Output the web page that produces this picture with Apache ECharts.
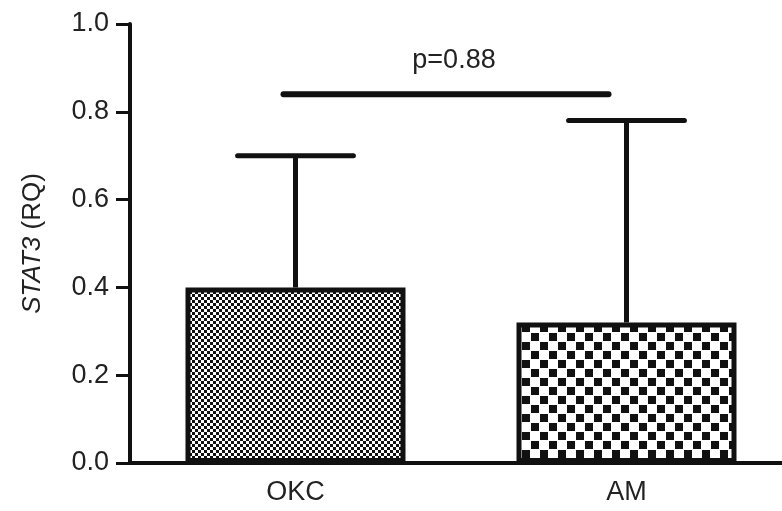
<!DOCTYPE html>
<html>
<head>
<meta charset="utf-8">
<script src="https://cdn.jsdelivr.net/npm/echarts@6/dist/echarts.min.js"></script>
<style>
  html, body { margin: 0; background: #fff; }
  #chart { width: 782px; height: 511px; }
</style>
</head>
<body>
<div id="chart"></div>
<script>
const groups = ['OKC', 'AM']
const means = [0.40, 0.32]
const upperErr = [0.70, 0.78]
const yTicks = [0, 0.2, 0.4, 0.6, 0.8, 1.0]
const sigLevel = 0.84
const sigLabel = 'p=0.88'

const font = 'Liberation Sans, Arial, sans-serif'

// checkerboard fill like the graphpad hatch
function checker(size, cell, dot) {
  const c = document.createElement('canvas')
  c.width = size
  c.height = size
  const ctx = c.getContext('2d')
  ctx.fillStyle = '#fff'
  ctx.fillRect(0, 0, size, size)
  ctx.fillStyle = '#111'
  for (let y = 0; y < size; y += cell) {
    for (let x = 0; x < size; x += cell) {
      if (((x + y) / cell) % 2 === 0) ctx.fillRect(x, y, dot, dot)
    }
  }
  return c
}
const patterns = [checker(6, 3, 3), checker(18, 9, 8)]

const chart = echarts.init(document.getElementById('chart'))
const option = {
  animation: false,
  grid: { left: 130, right: -10, top: 24, bottom: 48, outerBoundsMode: 'none' },
  xAxis: {
    type: 'category',
    data: groups,
    axisLine: { lineStyle: { color: '#111', width: 4 } },
    axisTick: { alignWithLabel: true, length: 12, lineStyle: { color: '#111', width: 3 } },
    axisLabel: { color: '#222', fontSize: 27, fontFamily: font, margin: 16 }
  },
  yAxis: {
    type: 'value',
    min: yTicks[0],
    max: yTicks[yTicks.length - 1],
    interval: yTicks[1] - yTicks[0],
    axisLine: { show: true, lineStyle: { color: '#111', width: 4 } },
    axisTick: { show: true, length: 14, lineStyle: { color: '#111', width: 3 } },
    splitLine: { show: false },
    axisLabel: { color: '#222', fontSize: 27, fontFamily: font, margin: 21, formatter: v => v.toFixed(1) },
    name: '{i|STAT3} (RQ)',
    nameLocation: 'middle',
    nameGap: 84,
    nameTextStyle: {
      color: '#222', fontSize: 26, fontFamily: font,
      rich: { i: { fontStyle: 'italic', fontSize: 26, fontFamily: font, color: '#222' } }
    }
  },
  series: [
    {
      type: 'bar',
      barWidth: 220,
      data: means.map((v, i) => ({
        value: v,
        itemStyle: { color: { image: patterns[i], repeat: 'repeat' } }
      })),
      itemStyle: { borderColor: '#111', borderWidth: 5 }
    },
    {
      type: 'custom',
      clip: false,
      z: 5,
      data: means.map((v, i) => [i, v, upperErr[i]]),
      renderItem: (params, api) => {
        const base = api.coord([api.value(0), api.value(1)])
        const top = api.coord([api.value(0), api.value(2)])
        const half = api.size([1, 0])[0] * 0.175
        const style = { stroke: '#111', lineWidth: 5, lineCap: 'round' }
        return {
          type: 'group',
          children: [
            { type: 'line', shape: { x1: top[0], y1: base[1], x2: top[0], y2: top[1] }, style: { stroke: '#111', lineWidth: 5 } },
            { type: 'line', shape: { x1: top[0] - half, y1: top[1], x2: top[0] + half, y2: top[1] }, style }
          ]
        }
      }
    },
    {
      type: 'custom',
      clip: false,
      z: 5,
      data: [[0, 1, sigLevel]],
      renderItem: (params, api) => {
        const a = api.coord([api.value(0), api.value(2)])
        const b = api.coord([api.value(1), api.value(2)])
        const x1 = a[0] - 12
        const x2 = b[0] - 18
        return {
          type: 'group',
          children: [
            { type: 'line', shape: { x1, y1: a[1], x2, y2: a[1] }, style: { stroke: '#111', lineWidth: 6, lineCap: 'round' } },
            {
              type: 'text',
              style: {
                text: sigLabel, x: (x1 + x2) / 2 + 8, y: a[1] - 20,
                align: 'center', verticalAlign: 'bottom',
                fill: '#222', fontSize: 27, fontFamily: font
              }
            }
          ]
        }
      }
    }
  ]
}
chart.setOption(option)
</script>
</body>
</html>
